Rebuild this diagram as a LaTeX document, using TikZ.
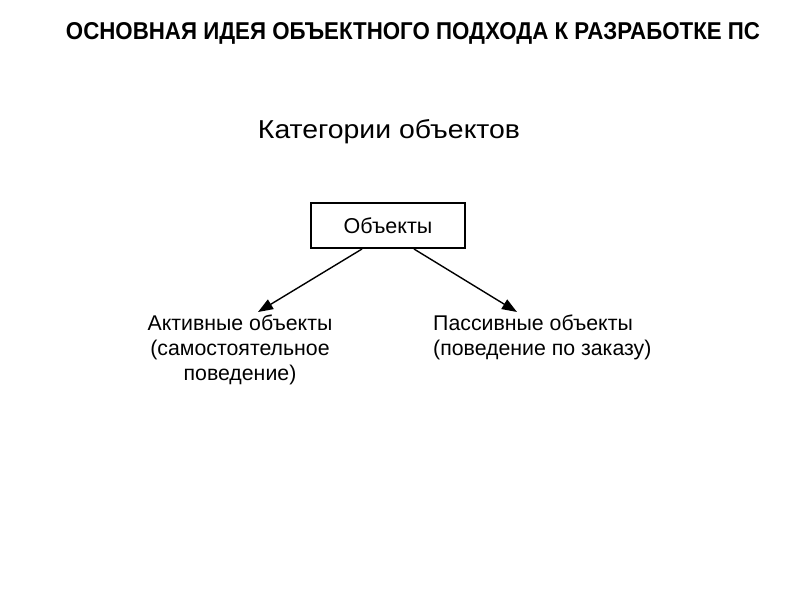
\documentclass[tikz,border=0pt]{standalone}
\usepackage{fontspec}
\setmainfont{Liberation Sans}
\usetikzlibrary{arrows.meta}
\begin{document}
\begin{tikzpicture}[x=1pt,y=-1pt,
  lbl/.style={font=\fontsize{21.3}{25}\selectfont, inner sep=0pt, align=center},
  conn/.style={line width=1.4pt, -{Triangle[length=15pt,width=11pt]}},
  objbox/.style={draw, line width=2pt, minimum width=154pt, minimum height=45pt, inner sep=0pt, font=\fontsize{21.5}{24}\selectfont}]
\useasboundingbox (0,0) rectangle (800,600);
\fill[white] (0,0) rectangle (800,600);
\node[anchor=base, inner sep=0pt] (title) at (413,39) {\resizebox{694pt}{17pt}{\bfseries ОСНОВНАЯ ИДЕЯ ОБЪЕКТНОГО ПОДХОДА К РАЗРАБОТКЕ ПС}};
\node[anchor=base, inner sep=0pt] (cat) at (389,138) {\resizebox{262pt}{19pt}{Категории объектов}};
\node[objbox] (obj) at (388,225.5) {Объекты};
\node[lbl, anchor=north] (act) at (240,315) {Активные объекты\\(самостоятельное\\поведение)};
\node[lbl, anchor=north west, align=left] (pas) at (433,315) {Пассивные объекты\\(поведение по заказу)};
\coordinate (ta) at (258,312);
\coordinate (tp) at (517,312);
\draw[conn] ([xshift=-26pt]obj.south) -- (ta);
\draw[conn] ([xshift=26pt]obj.south) -- (tp);
\end{tikzpicture}
\end{document}
